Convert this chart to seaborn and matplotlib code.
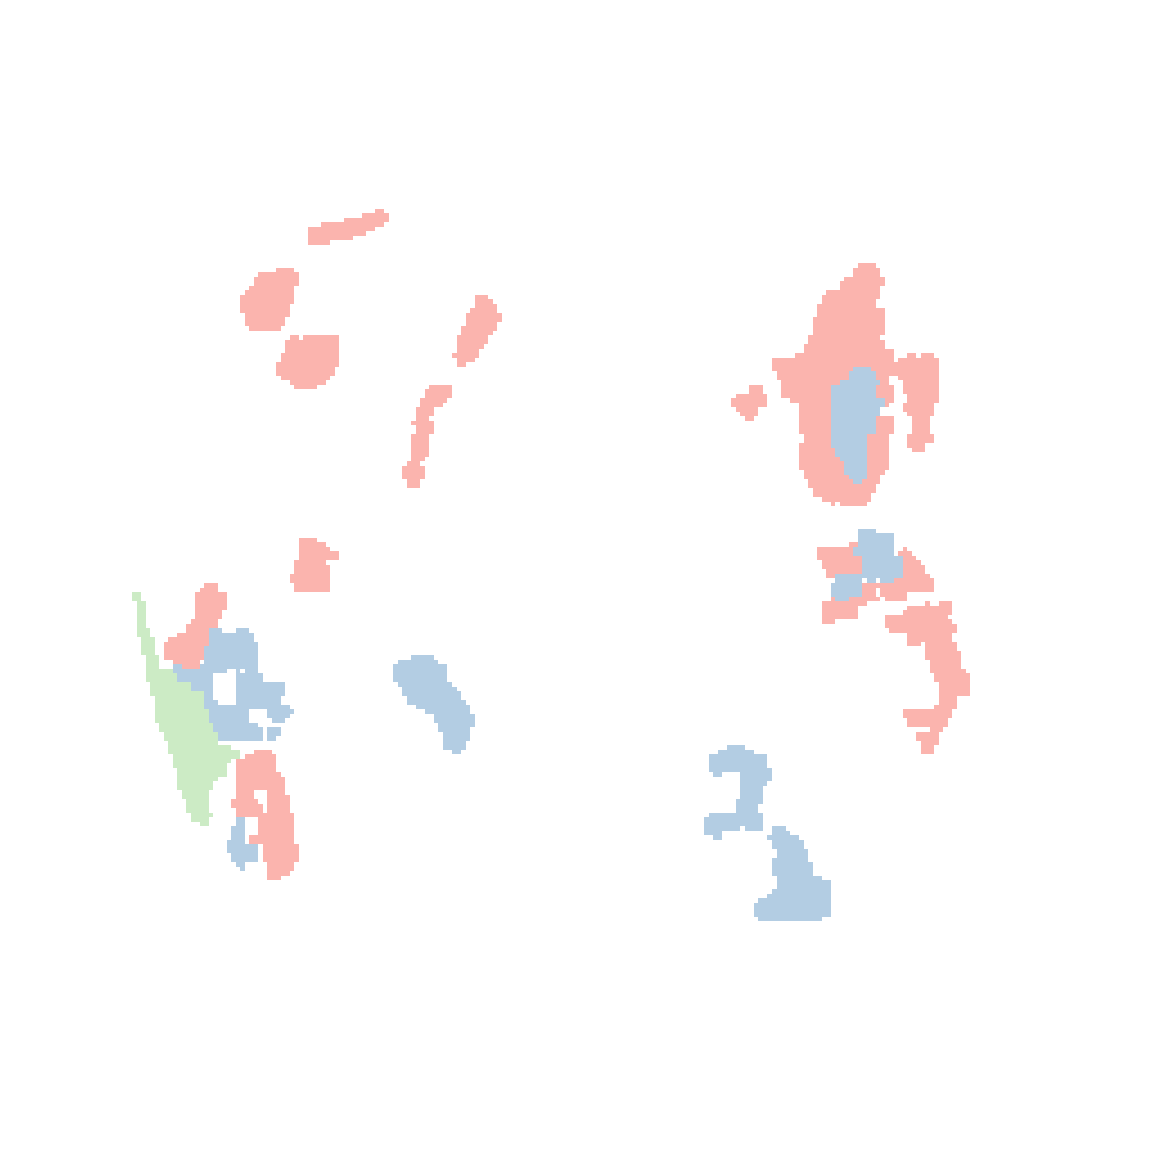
import numpy as np
import matplotlib
matplotlib.use("Agg")
import matplotlib.pyplot as plt
from matplotlib.colors import ListedColormap
from matplotlib.path import Path
import seaborn as sns

# grid of cells, 0 = empty, 1 = red, 2 = blue, 3 = green
n_rows, n_cols = 260, 260
palette = ["#FFFFFF", "#FBB4AE", "#B3CDE3", "#CCEBC5"]

# region outlines as (col, row) cell edges
red_stripe = [(68,50),(68,54),(73,54),(73,53),(78,53),(78,52),(81,52),(81,51),(83,51),(83,50),(85,50),(85,49),
              (86,49),(86,47),(85,47),(85,46),(83,46),(83,47),(80,47),(80,48),(76,48),(76,49),(71,49),(71,50)]
red_blob_a = [(61,59),(65,59),(65,60),(66,60),(66,63),(65,63),(65,67),(64,67),(64,70),(63,70),(63,72),(62,72),
              (62,73),(55,73),(55,72),(54,72),(54,69),(53,69),(53,65),(54,65),(54,64),(55,64),(55,63),(56,63),
              (56,61),(57,61),(57,60),(61,60)]
red_blob_b = [(64,74),(66,74),(66,75),(67,75),(67,74),(75,74),(75,81),(74,81),(74,83),(73,83),(73,84),(72,84),
              (72,85),(70,85),(70,86),(65,86),(65,85),(64,85),(64,84),(62,84),(62,83),(61,83),(61,80),(62,80),
              (62,78),(63,78),(63,75),(64,75)]
red_slant = [(105,65),(108,65),(108,66),(109,66),(109,67),(110,67),(110,69),(111,69),(111,71),(110,71),(110,73),
             (109,73),(109,74),(108,74),(108,76),(107,76),(107,77),(106,77),(106,79),(105,79),(105,80),(103,80),
             (103,81),(101,81),(101,79),(100,79),(100,78),(101,78),(101,74),(102,74),(102,72),(103,72),(103,69),
             (104,69),(104,68),(105,68)]
red_chain = [(95,85),(100,85),(100,88),(99,88),(99,89),(98,89),(98,90),(96,90),(96,92),(95,92),(95,93),(96,93),
             (96,96),(95,96),(95,101),(94,101),(94,102),(93,102),(93,103),(94,103),(94,106),(93,106),(93,108),
             (90,108),(90,106),(89,106),(89,103),(90,103),(90,102),(91,102),(91,96),(92,96),(92,94),(91,94),
             (91,93),(92,93),(92,90),(93,90),(93,88),(94,88),(94,86),(95,86)]
red_bird = [(66,119),(70,119),(70,120),(72,120),(72,121),(73,121),(73,122),(75,122),(75,124),(72,124),(72,125),
            (73,125),(73,131),(65,131),(65,129),(64,129),(64,127),(65,127),(65,124),(66,124)]
blue_mid = [(91,145),(96,145),(96,146),(97,146),(97,147),(99,147),(99,151),(100,151),(100,152),(101,152),
            (101,153),(102,153),(102,155),(103,155),(103,156),(104,156),(104,158),(105,158),(105,161),(104,161),
            (104,164),(103,164),(103,166),(102,166),(102,167),(100,167),(100,166),(98,166),(98,162),(97,162),
            (97,160),(96,160),(96,158),(94,158),(94,157),(92,157),(92,156),(90,156),(90,154),(89,154),(89,152),
            (88,152),(88,151),(87,151),(87,147),(88,147),(88,146),(91,146)]

east_red = [(190,58),(194,58),(194,59),(195,59),(195,61),(196,61),(196,63),(195,63),(195,66),(194,66),(194,68),
            (196,68),(196,74),(195,74),(195,75),(196,75),(196,77),(198,77),(198,80),(199,80),(199,83),(197,83),
            (197,85),(198,85),(198,89),(197,89),(197,90),(195,90),(195,92),(198,92),(198,96),(197,96),(197,104),
            (196,104),(196,105),(195,105),(195,107),(194,107),(194,109),(193,109),(193,111),(192,111),(192,112),
            (186,112),(186,111),(185,111),(185,112),(184,112),(184,111),(182,111),(182,110),(180,110),(180,108),
            (179,108),(179,106),(178,106),(178,104),(177,104),(177,98),(178,98),(178,96),(177,96),(177,89),
            (175,89),(175,88),(173,88),(173,84),(172,84),(172,82),(171,82),(171,79),(176,79),(176,78),(178,78),
            (178,76),(179,76),(179,74),(180,74),(180,70),(181,70),(181,67),(182,67),(182,65),(183,65),(183,64),
            (186,64),(186,62),(187,62),(187,61),(189,61),(189,59),(190,59)]
east_red_arm = [(199,79),(201,79),(201,78),(203,78),(203,79),(204,79),(204,78),(207,78),(207,79),(208,79),
                (208,89),(207,89),(207,92),(206,92),(206,96),(207,96),(207,98),(205,98),(205,100),(202,100),
                (202,99),(201,99),(201,96),(202,96),(202,92),(201,92),(201,91),(200,91),(200,89),(201,89),
                (201,87),(200,87),(200,84),(199,84)]
east_red_dot = [(166,85),(169,85),(169,87),(170,87),(170,90),(168,90),(168,92),(167,92),(167,93),(165,93),
                (165,92),(164,92),(164,91),(163,91),(163,90),(162,90),(162,88),(163,88),(163,87),(166,87)]
east_blue = [(189,81),(193,81),(193,82),(194,82),(194,84),(195,84),(195,85),(194,85),(194,88),(196,88),(196,90),
             (195,90),(195,92),(194,92),(194,96),(192,96),(192,106),(191,106),(191,107),(189,107),(189,106),
             (188,106),(188,105),(187,105),(187,102),(186,102),(186,101),(185,101),(185,99),(184,99),(184,85),
             (186,85),(186,84),(188,84),(188,82),(189,82)]

cross_red_left = [(181,121),(188,121),(188,120),(190,120),(190,123),(191,123),(191,128),(183,128),(183,126),
                  (182,126),(182,124),(181,124)]
cross_red_low = [(191,129),(195,129),(195,133),(192,133),(192,134),(190,134),(190,137),(185,137),(185,138),
                 (182,138),(182,133),(184,133),(184,132),(191,132)]
cross_red_right = [(200,121),(201,121),(201,122),(202,122),(202,123),(203,123),(203,124),(204,124),(204,125),
                   (205,125),(205,127),(206,127),(206,128),(207,128),(207,131),(201,131),(201,133),(196,133),
                   (196,132),(195,132),(195,129),(198,129),(198,128),(200,128),(200,123),(199,123),(199,122),
                   (200,122)]
cross_blue = [(190,117),(194,117),(194,118),(198,118),(198,123),(200,123),(200,128),(198,128),(198,129),(195,129),
              (195,128),(194,128),(194,129),(192,129),(192,128),(191,128),(191,123),(189,123),(189,121),(190,121)]
cross_blue_small = [(185,127),(191,127),(191,132),(188,132),(188,133),(185,133),(185,132),(184,132),(184,129),
                    (185,129)]
cross_gap = [(194,130),(195,130),(195,132),(194,132)]

hook_red = [(201,134),(205,134),(205,133),(206,133),(206,134),(208,134),(208,133),(211,133),(211,136),(210,136),
            (210,137),(211,137),(211,138),(212,138),(212,140),(211,140),(211,142),(212,142),(212,144),(213,144),
            (213,148),(214,148),(214,149),(215,149),(215,154),(212,154),(212,157),(211,157),(211,159),(210,159),
            (210,161),(209,161),(209,162),(208,162),(208,165),(207,165),(207,167),(204,167),(204,164),(203,164),
            (203,162),(206,162),(206,161),(201,161),(201,159),(200,159),(200,157),(207,157),(207,156),(208,156),
            (208,151),(207,151),(207,149),(206,149),(206,146),(205,146),(205,142),(204,142),(204,143),(201,143),
            (201,140),(197,140),(197,139),(196,139),(196,136),(200,136),(200,135),(201,135)]
south_blue_a = [(161,165),(165,165),(165,166),(167,166),(167,167),(170,167),(170,170),(171,170),(171,173),
                (170,173),(170,174),(169,174),(169,178),(168,178),(168,180),(169,180),(169,184),(165,184),
                (165,183),(164,183),(164,184),(160,184),(160,186),(158,186),(158,185),(156,185),(156,181),
                (157,181),(157,180),(163,180),(163,177),(164,177),(164,171),(160,171),(160,172),(158,172),
                (158,171),(157,171),(157,167),(159,167),(159,166),(161,166)]
south_blue_b = [(171,183),(174,183),(174,184),(175,184),(175,185),(177,185),(177,186),(178,186),(178,188),
                (179,188),(179,191),(180,191),(180,194),(182,194),(182,195),(184,195),(184,203),(182,203),
                (182,204),(168,204),(168,203),(167,203),(167,200),(168,200),(168,199),(170,199),(170,198),
                (171,198),(171,197),(172,197),(172,194),(171,194),(171,190),(172,190),(172,188),(171,188),
                (171,186),(170,186),(170,185),(171,185)]

west_blue = [(46,139),(49,139),(49,140),(52,140),(52,139),(55,139),(55,140),(56,140),(56,142),(57,142),(57,149),
             (58,149),(58,151),(63,151),(63,154),(62,154),(62,156),(64,156),(64,157),(65,157),(65,158),(64,158),
             (64,159),(63,159),(63,160),(60,160),(60,159),(59,159),(59,157),(55,157),(55,160),(57,160),(57,161),
             (58,161),(58,164),(48,164),(48,165),(45,165),(45,153),(42,153),(42,151),(39,151),(39,149),(38,149),
             (38,147),(45,147),(45,143),(46,143)]
west_blue_bit = [(59,161),(62,161),(62,163),(61,163),(61,164),(59,164)]
west_blue_hole = [(47,149),(50,149),(50,148),(52,148),(52,156),(48,156),(48,155),(47,155)]
west_blue_pin = [(53,148),(54,148),(54,149),(53,149)]
west_green = [(29,131),(31,131),(31,133),(32,133),(32,139),(33,139),(33,141),(34,141),(34,145),(35,145),(35,148),
              (38,148),(38,149),(39,149),(39,151),(42,151),(42,153),(45,153),(45,157),(46,157),(46,160),(47,160),
              (47,162),(48,162),(48,165),(51,165),(51,166),(53,166),(53,168),(51,168),(51,169),(50,169),(50,172),
              (48,172),(48,173),(47,173),(47,175),(46,175),(46,180),(47,180),(47,181),(46,181),(46,183),(44,183),
              (44,182),(42,182),(42,180),(41,180),(41,177),(40,177),(40,175),(39,175),(39,170),(38,170),(38,167),
              (37,167),(37,164),(36,164),(36,162),(35,162),(35,160),(34,160),(34,154),(33,154),(33,151),(32,151),
              (32,145),(31,145),(31,141),(30,141),(30,133),(29,133)]
west_red_top = [(45,129),(48,129),(48,131),(50,131),(50,135),(49,135),(49,137),(48,137),(48,139),(46,139),(46,143),
                (45,143),(45,146),(44,146),(44,148),(40,148),(40,147),(38,147),(38,146),(36,146),(36,142),(37,142),
                (37,141),(39,141),(39,140),(41,140),(41,138),(42,138),(42,137),(43,137),(43,131),(44,131),(44,130),
                (45,130)]
west_red_low = [(56,166),(60,166),(60,167),(61,167),(61,171),(62,171),(62,172),(63,172),(63,176),(64,176),(64,180),
                (65,180),(65,187),(66,187),(66,191),(65,191),(65,193),(64,193),(64,194),(62,194),(62,195),(59,195),
                (59,191),(58,191),(58,187),(55,187),(55,185),(57,185),(57,181),(52,181),(52,179),(51,179),(51,177),
                (52,177),(52,168),(54,168),(54,167),(56,167)]
west_red_hole = [(56,175),(59,175),(59,180),(58,180),(58,178),(57,178),(57,177),(56,177)]
west_blue_low = [(52,181),(54,181),(54,187),(57,187),(57,191),(54,191),(54,193),(53,193),(53,192),(52,192),
                 (52,191),(51,191),(51,189),(50,189),(50,186),(51,186),(51,183),(52,183)]

# painting order: later layers cover earlier ones
layers = [
    (red_stripe, 1), (red_blob_a, 1), (red_blob_b, 1), (red_slant, 1), (red_chain, 1), (red_bird, 1),
    (blue_mid, 2),
    (east_red, 1), (east_red_arm, 1), (east_red_dot, 1), (east_blue, 2),
    (cross_red_left, 1), (cross_red_low, 1), (cross_red_right, 1), (cross_blue, 2), (cross_blue_small, 2),
    (cross_gap, 0),
    (hook_red, 1), (south_blue_a, 2), (south_blue_b, 2),
    (west_blue, 2), (west_blue_bit, 2), (west_blue_hole, 0), (west_blue_pin, 0),
    (west_green, 3), (west_red_top, 1), (west_red_low, 1), (west_red_hole, 0), (west_blue_low, 2),
]

grid = np.zeros((n_rows, n_cols), dtype=int)
cc, rr = np.meshgrid(np.arange(n_cols) + 0.5, np.arange(n_rows) + 0.5)
centers = np.column_stack([cc.ravel(), rr.ravel()])
for outline, cat in layers:
    inside = Path(outline).contains_points(centers).reshape(grid.shape)
    grid[inside] = cat

# figure: 1175 px square, cell ~4.507 px
W = 1175.0
cell = 4.507
ox, oy = 1.3, 1.6
fig = plt.figure(figsize=(W / 100, W / 100), dpi=100)
fig.patch.set_facecolor("white")
side = n_cols * cell / W
ax = fig.add_axes([ox / W, 1 - (oy + n_rows * cell) / W, side, side])

sns.heatmap(grid, ax=ax, cmap=ListedColormap(palette), vmin=-0.5, vmax=3.5,
            cbar=False, xticklabels=False, yticklabels=False, linewidths=0)
ax.axis("off")

fig.savefig("out.png", dpi=100, facecolor="white")
